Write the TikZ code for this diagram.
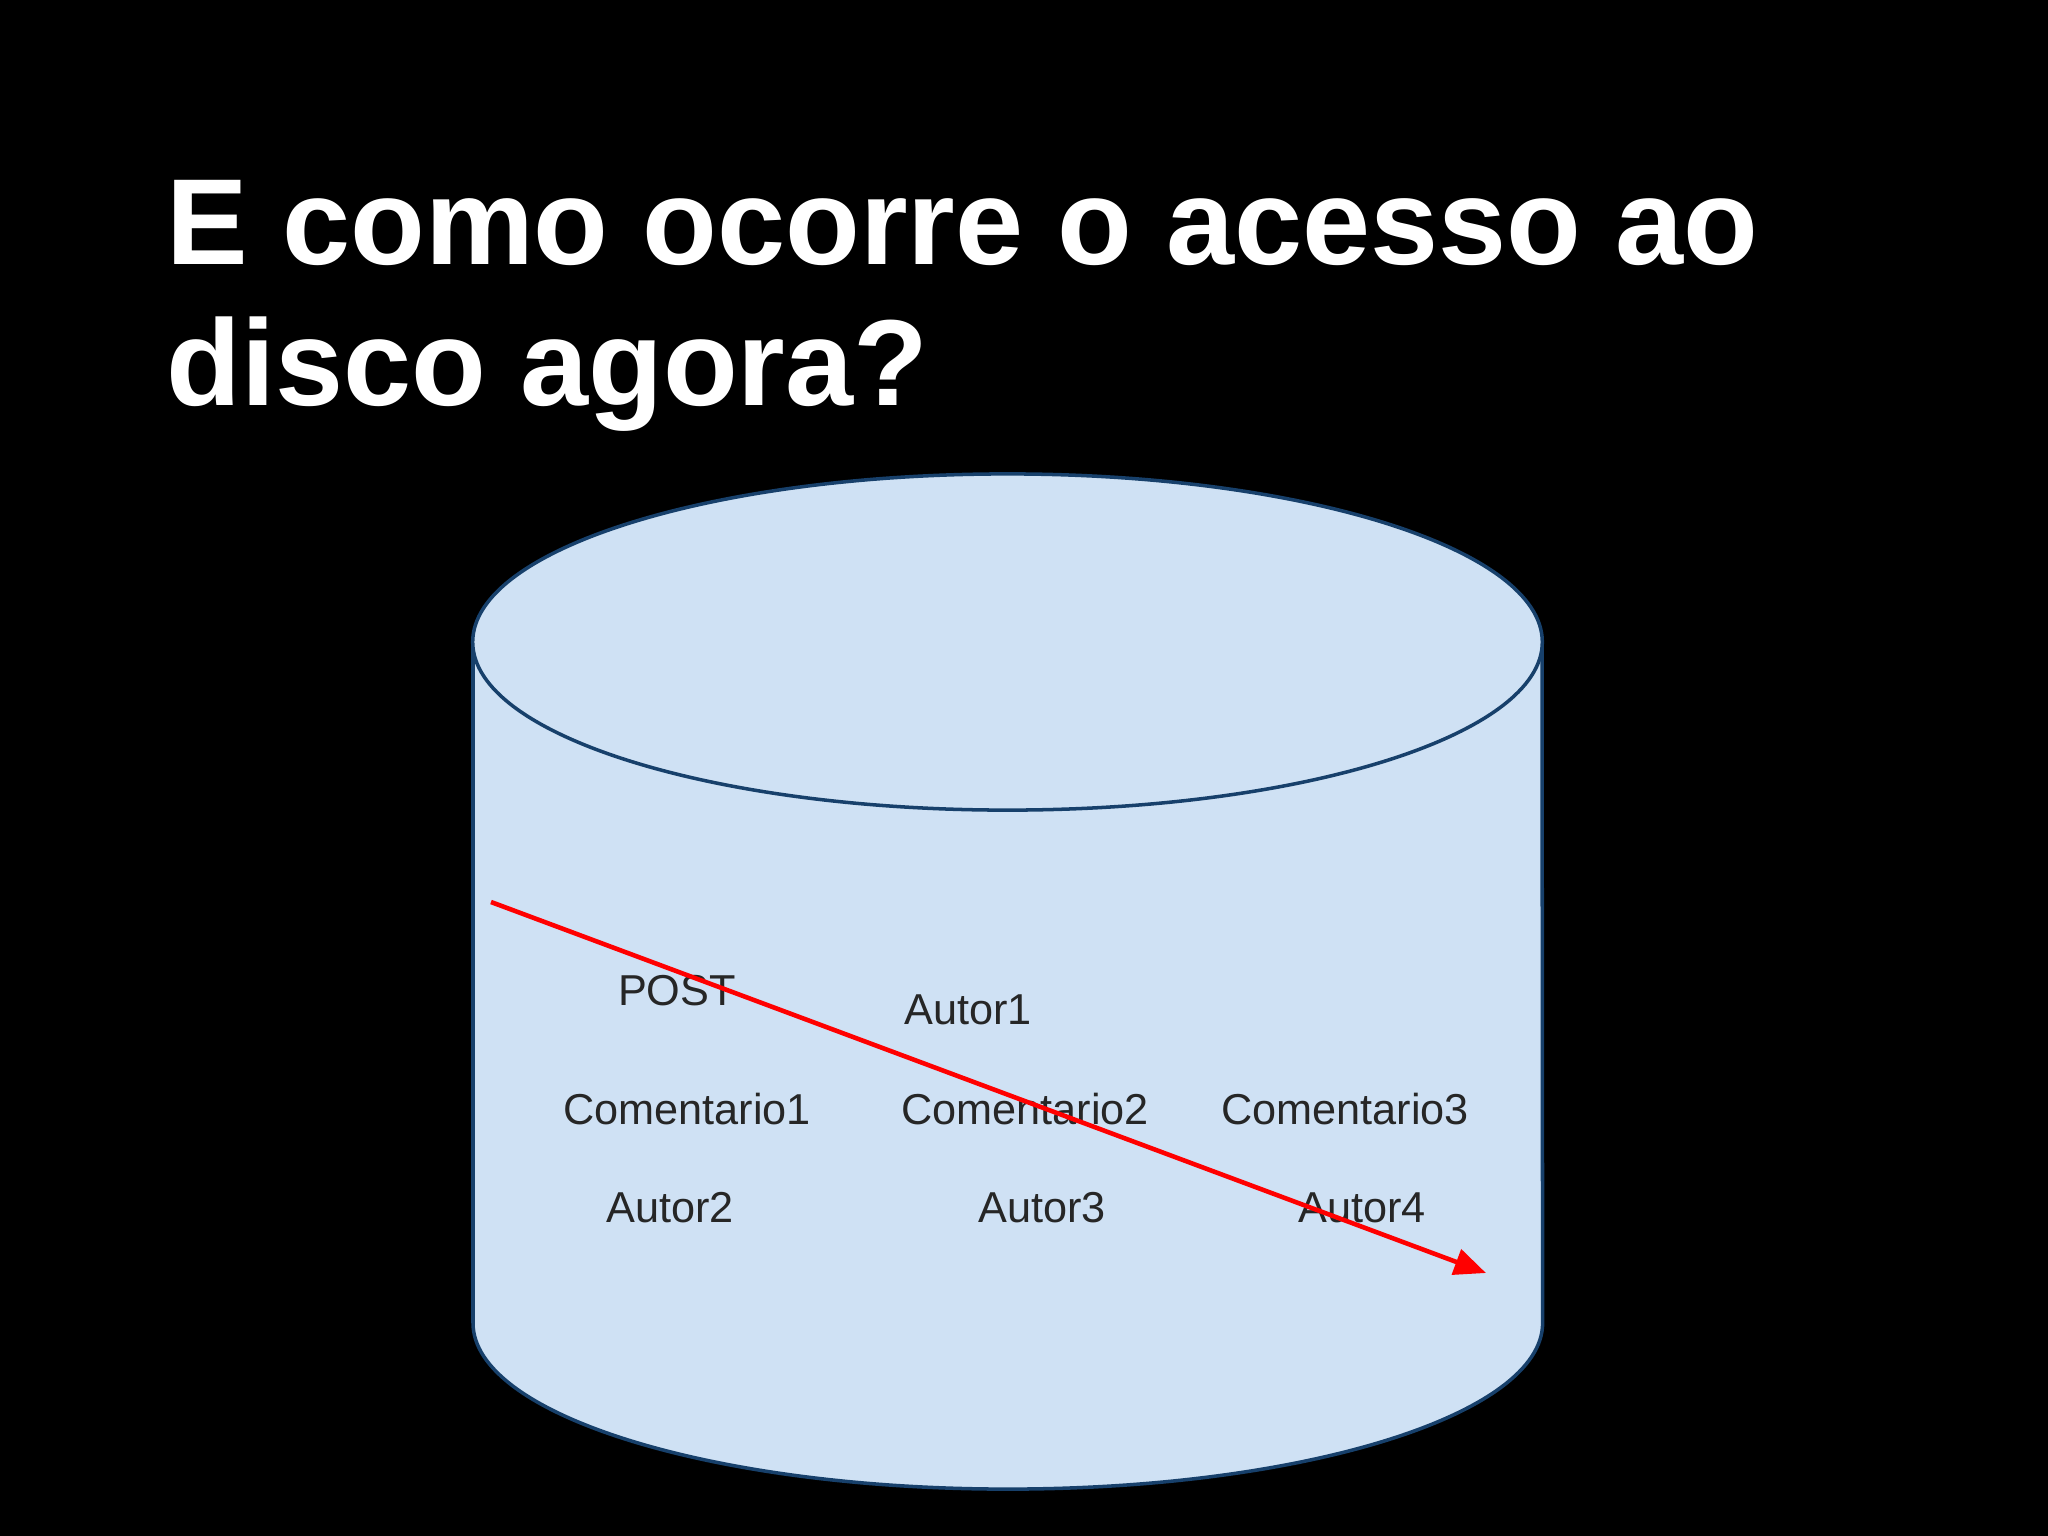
\documentclass[tikz,border=0pt]{standalone}
\usepackage{fontspec}
\setmainfont{Liberation Sans}
\usetikzlibrary{arrows.meta}
\definecolor{cylfill}{HTML}{CFE1F4}
\definecolor{cyledge}{HTML}{17406B}
\definecolor{txtc}{HTML}{262626}
\tikzset{
  cyl/.style={fill=cylfill, draw=cyledge, line width=1.0pt},
  lbl/.style={text=txtc, inner sep=0pt, font=\fontsize{12.3}{14}\selectfont},
  ttl/.style={text=white, inner sep=0pt, anchor=base west, font=\fontsize{34.8}{40}\selectfont\bfseries},
  seek/.style={draw=red, line width=1.3pt, -{Triangle[length=9pt,width=7.5pt]}}
}
\begin{document}
\begin{tikzpicture}[x=0.01cm,y=-0.01cm]
\fill[black] (0,0) rectangle (2048,1536);
\useasboundingbox (0,0) rectangle (2048,1536);
% title
\node[ttl] (t1) at (166,264) {E como ocorre o acesso ao};
\node[ttl] (t2) at (166,405) {disco agora?};
% cylinder
\path[cyl] (473,642) -- (473,1323) arc[start angle=180, end angle=360, x radius=5.345cm, y radius=1.66cm] -- (1542,642) -- cycle;
\path[cyl] (1007.5,642) ellipse [x radius=5.345cm, y radius=1.68cm];
% labels
\node[lbl] (post) at (677,991) {POST};
\node[lbl] (a1) at (968,1010) {Autor1};
\node[lbl] (c1) at (687,1109) {Comentario1};
\node[lbl] (c2) at (1025,1109) {Comentario2};
\node[lbl] (c3) at (1345,1109) {Comentario3};
\node[lbl] (a2) at (670,1208) {Autor2};
\node[lbl] (a3) at (1042,1208) {Autor3};
\node[lbl] (a4) at (1362,1208) {Autor4};
% seek arrow
\coordinate (s0) at (491,902);
\coordinate (s1) at (1486,1273);
\draw[seek] (s0) -- (s1);
\end{tikzpicture}
\end{document}
